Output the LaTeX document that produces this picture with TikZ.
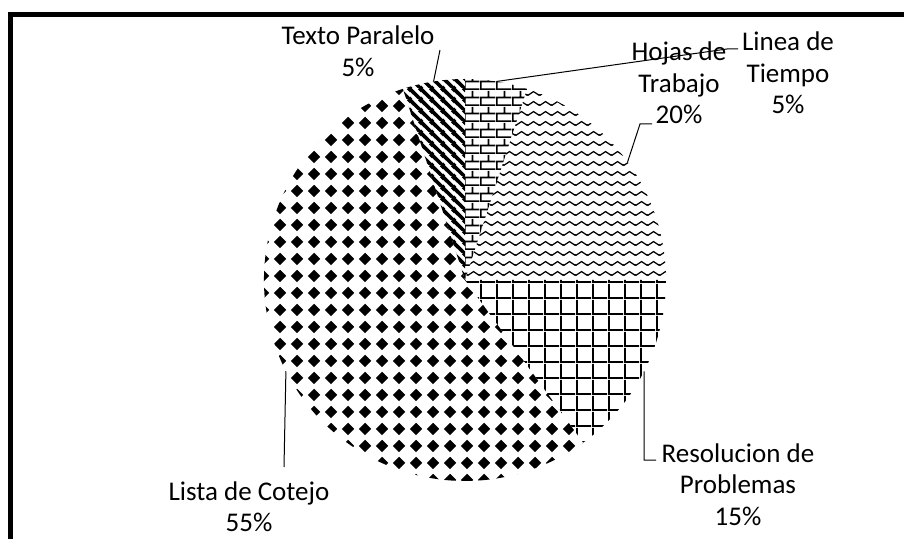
\documentclass[tikz,border=0pt]{standalone}
\usepackage{fontspec}
\setmainfont{Carlito}
\usepackage{tikz}
\usetikzlibrary{patterns}
% fill patterns of the slices
\pgfdeclarepatternformonly{brickrows}{\pgfqpoint{0pt}{0pt}}{\pgfqpoint{16pt}{16pt}}{\pgfqpoint{16pt}{16pt}}{%
  \pgfpathrectangle{\pgfqpoint{0pt}{0pt}}{\pgfqpoint{16pt}{1.8pt}}
  \pgfpathrectangle{\pgfqpoint{0pt}{8pt}}{\pgfqpoint{16pt}{1.8pt}}
  \pgfpathrectangle{\pgfqpoint{0pt}{0pt}}{\pgfqpoint{1.8pt}{8pt}}
  \pgfpathrectangle{\pgfqpoint{8pt}{8pt}}{\pgfqpoint{1.8pt}{8pt}}
  \pgfusepath{fill}}
\pgfdeclarepatternformonly{zigzagrows}{\pgfqpoint{0pt}{0pt}}{\pgfqpoint{12pt}{10pt}}{\pgfqpoint{12pt}{10pt}}{%
  \pgfsetlinewidth{1.4pt}
  \pgfpathmoveto{\pgfqpoint{-6pt}{7pt}}
  \pgfpathlineto{\pgfqpoint{0pt}{3pt}}
  \pgfpathlineto{\pgfqpoint{6pt}{7pt}}
  \pgfpathlineto{\pgfqpoint{12pt}{3pt}}
  \pgfpathlineto{\pgfqpoint{18pt}{7pt}}
  \pgfusepath{stroke}}
\pgfdeclarepatternformonly{widestripes}{\pgfqpoint{0pt}{0pt}}{\pgfqpoint{10.5pt}{10.5pt}}{\pgfqpoint{10.5pt}{10.5pt}}{%
  \pgfsetlinewidth{3.8pt}
  \pgfpathmoveto{\pgfqpoint{-11.5pt}{11.5pt}}
  \pgfpathlineto{\pgfqpoint{1pt}{-1pt}}
  \pgfpathmoveto{\pgfqpoint{-1pt}{11.5pt}}
  \pgfpathlineto{\pgfqpoint{11.5pt}{-1pt}}
  \pgfpathmoveto{\pgfqpoint{9.5pt}{11.5pt}}
  \pgfpathlineto{\pgfqpoint{22pt}{-1pt}}
  \pgfusepath{stroke}}
\pgfdeclarepatternformonly{squaregrid}{\pgfqpoint{0pt}{0pt}}{\pgfqpoint{16pt}{16pt}}{\pgfqpoint{16pt}{16pt}}{%
  \pgfpathrectangle{\pgfqpoint{0pt}{0pt}}{\pgfqpoint{16pt}{2pt}}
  \pgfpathrectangle{\pgfqpoint{0pt}{0pt}}{\pgfqpoint{2pt}{16pt}}
  \pgfusepath{fill}}
\pgfdeclarepatternformonly{diamondgrid}{\pgfqpoint{0pt}{0pt}}{\pgfqpoint{17pt}{17pt}}{\pgfqpoint{17pt}{17pt}}{%
  \pgfpathmoveto{\pgfqpoint{8.5pt}{2pt}}
  \pgfpathlineto{\pgfqpoint{15pt}{8.5pt}}
  \pgfpathlineto{\pgfqpoint{8.5pt}{15pt}}
  \pgfpathlineto{\pgfqpoint{2pt}{8.5pt}}
  \pgfpathclose
  \pgfusepath{fill}}
\tikzset{% labels and leader lines
  pielabel/.style={font=\fontsize{27}{31.5}\selectfont, align=center, inner sep=0pt},
  leader/.style={line width=1pt}
}

\begin{document}
\begin{tikzpicture}[x=1pt,y=1pt]
\useasboundingbox (0,0) rectangle (904,538);
\clip (0,0) rectangle (904,538);
\fill[white] (0,0) rectangle (904,538);
\draw[line width=5pt] (10.5,523.5) rectangle (920,-20);

\coordinate (pie) at (465,258);
\fill[pattern=brickrows] (pie) -- +(72:201) arc (72:90:201) -- cycle;
\fill[pattern=zigzagrows] (pie) -- +(0:201) arc (0:72:201) -- cycle;
\fill[pattern=squaregrid] (pie) -- +(-54:201) arc (-54:0:201) -- cycle;
\fill[pattern=diamondgrid] (pie) -- +(108:201) arc (108:306:201) -- cycle;
\fill[pattern=widestripes] (pie) -- +(90:201) arc (90:108:201) -- cycle;

\node[pielabel] (texto) at (358,487) {Texto Paralelo\\5\%};
\node[pielabel] (hojas) at (679,455) {Hojas de\\Trabajo\\20\%};
\node[pielabel] (linea) at (788,465) {Linea de\\Tiempo\\5\%};
\node[pielabel] (resol) at (738,53.5) {Resolucion de\\Problemas\\15\%};
\node[pielabel] (lista) at (249,31.5) {Lista de Cotejo\\55\%};

\path (pie) ++(99:201) coordinate (textoedge);
\path (pie) ++(81:201) coordinate (lineaedge);
\path (pie) ++(36:201) coordinate (hojasedge);
\path (pie) ++(-27:201) coordinate (resoledge);
\path (pie) ++(207:201) coordinate (listaedge);
\coordinate (textoend) at (440,488);
\coordinate (lineabend) at (727,489);
\coordinate (lineaend) at (738,489);
\coordinate (hojasbend) at (640,414);
\coordinate (hojasend) at (652,414);
\coordinate (resolbend) at (644,78);
\coordinate (resolend) at (656,78);
\coordinate (listaend) at (284,71);

\draw[leader] (textoedge) -- (textoend);
\draw[leader] (lineaedge) -- (lineabend) -- (lineaend);
\draw[leader] (hojasedge) -- (hojasbend) -- (hojasend);
\draw[leader] (resoledge) -- (resolbend) -- (resolend);
\draw[leader] (listaedge) -- (listaend);
\end{tikzpicture}
\end{document}
